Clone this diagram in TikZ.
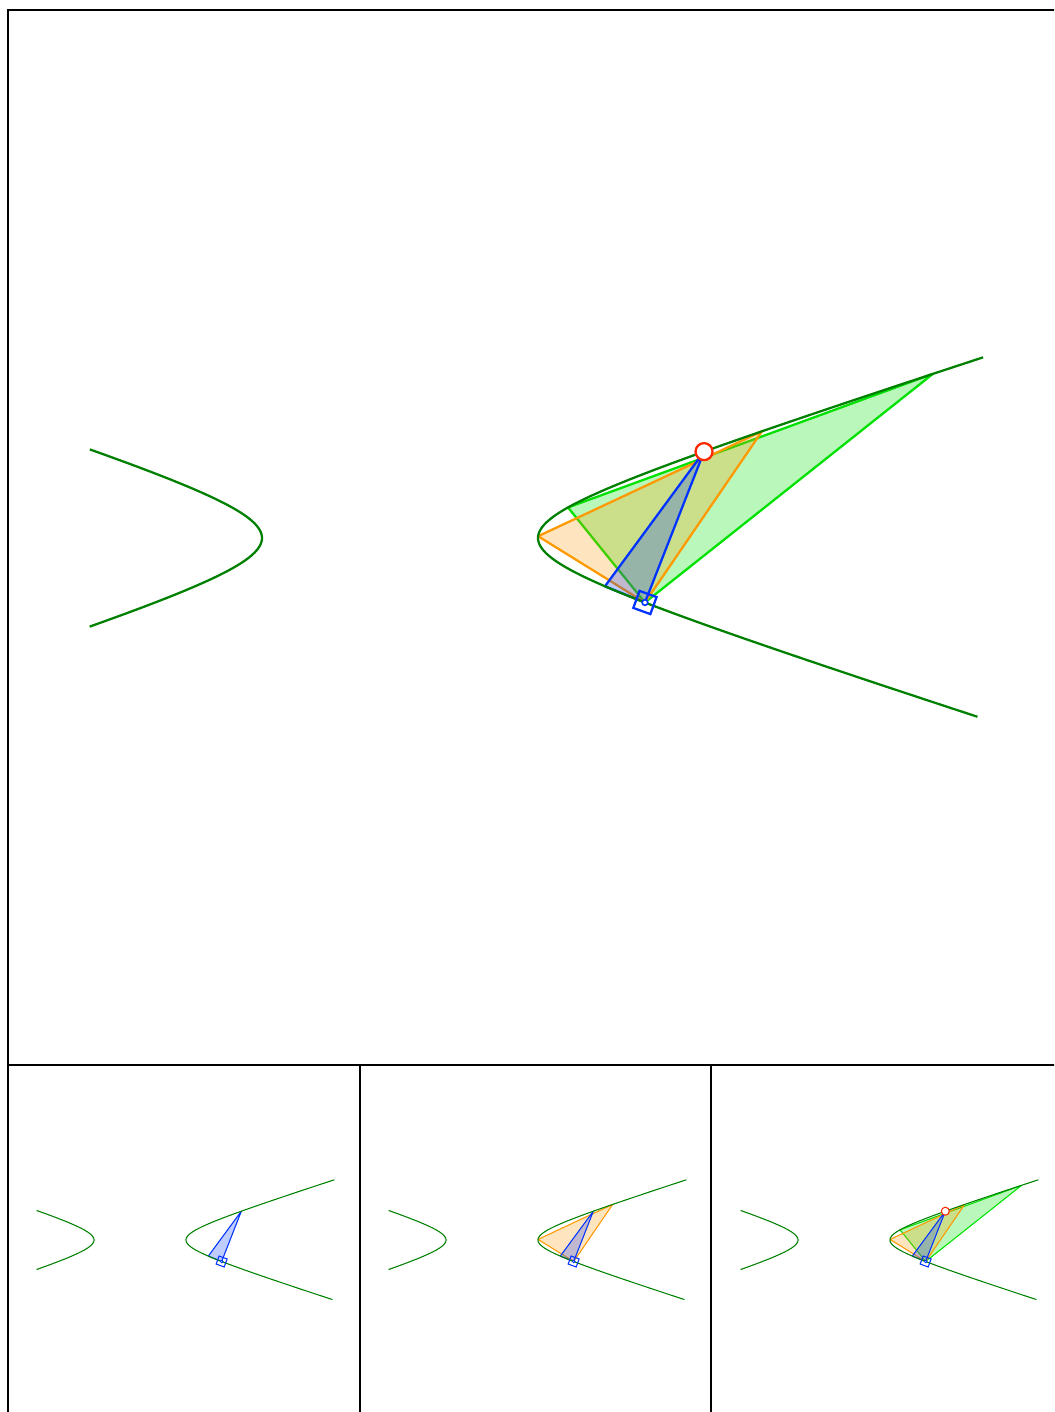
\documentclass[tikz,border=0pt]{standalone}
\usepackage{tikz}
\definecolor{hypgreen}{RGB}{0, 128, 0}
\definecolor{chordgreen}{RGB}{0, 225, 0}
\definecolor{chordorange}{RGB}{255, 153, 0}
\definecolor{chordblue}{RGB}{0, 51, 255}
\definecolor{markred}{RGB}{255, 40, 0}

\tikzset{
  hypcurve/.style={hypgreen, line width=\lw},
  greentri/.style={draw=chordgreen, fill=chordgreen, fill opacity=0.27, line width=\lw, line join=round},
  orangetri/.style={draw=chordorange, fill=chordorange, fill opacity=0.25, line width=\lw, line join=round},
  bluetri/.style={draw=chordblue, fill=chordblue, fill opacity=0.25, line width=\lw, line join=round},
  sqmark/.style={draw=chordblue, rectangle, inner sep=0pt, minimum size=8*\lw, line width=\lw},
  dotmark/.style={draw=chordblue, fill=white, circle, inner sep=0pt, minimum size=2.5*\lw, line width=0.7*\lw},
  redmark/.style={draw=markred, fill=white, circle, inner sep=0pt, minimum size=7.5*\lw, line width=\lw},
  frame/.style={black, line width=1.5pt}
}

% one hyperbola scene, #1 = how many triangles are shown
\newcommand{\hypscene}[1]{%
  % points on the right branch (a=138, b=44)
  \coordinate (P)  at ({138*cosh(1.427)},{44*sinh(1.427)});
  \coordinate (Q)  at ({138*cosh(-1.176)},{44*sinh(-1.176)});
  \coordinate (B)  at ({138*cosh(-0.949)},{44*sinh(-0.949)});
  \coordinate (O1) at ({138*cosh(0.04)},{44*sinh(0.04)});
  \coordinate (O2) at ({138*cosh(1.619)},{44*sinh(1.619)});
  \coordinate (G1) at ({138*cosh(0.648)},{44*sinh(0.648)});
  \coordinate (G2) at ({138*cosh(2.027)},{44*sinh(2.027)});

  % triangles
  \ifnum#1>2 \filldraw[greentri] (G1) -- (G2) -- (Q) -- cycle; \fi
  \ifnum#1>1 \filldraw[orangetri] (O1) -- (O2) -- (Q) -- cycle; \fi
  \filldraw[bluetri] (B) -- (P) -- (Q) -- cycle;

  % both branches
  \draw[hypcurve] plot[domain=-2.11:2.12, samples=80, smooth] ({138*cosh(\x)},{44*sinh(\x)});
  \draw[hypcurve] plot[domain=-1.45:1.45, samples=50, smooth] ({-138*cosh(\x)},{44*sinh(\x)});

  % markers
  \node[sqmark, rotate=-20] (sq) at (Q) {};
  \node[dotmark] (dot) at (Q) {};
  \ifnum#1>2 \node[redmark] (pt) at (P) {}; \fi
}

\begin{document}
\begin{tikzpicture}[x=0.75pt, y=0.75pt]
  \useasboundingbox (0,0) rectangle (1054,1412);
  \clip (0,0) rectangle (1054,1412);

  % Panel frames
  \draw[frame] (7.5,0) -- (7.5,1402) -- (1070,1402);
  \draw[frame] (7.5,347) -- (1070,347);
  \draw[frame] (359.5,0) -- (359.5,347);
  \draw[frame] (711,0) -- (711,347);

  % Main picture
  \begin{scope}[shift={(400,874)}]
    \def\lw{1.7pt}
    \hypscene{3}
  \end{scope}

  % Steps, one to three
  \begin{scope}[shift={(140,172)}, scale=1/3]
    \def\lw{0.8pt}
    \hypscene{1}
  \end{scope}
  \begin{scope}[shift={(492,172)}, scale=1/3]
    \def\lw{0.8pt}
    \hypscene{2}
  \end{scope}
  \begin{scope}[shift={(844,172)}, scale=1/3]
    \def\lw{0.8pt}
    \hypscene{3}
  \end{scope}
\end{tikzpicture}
\end{document}
